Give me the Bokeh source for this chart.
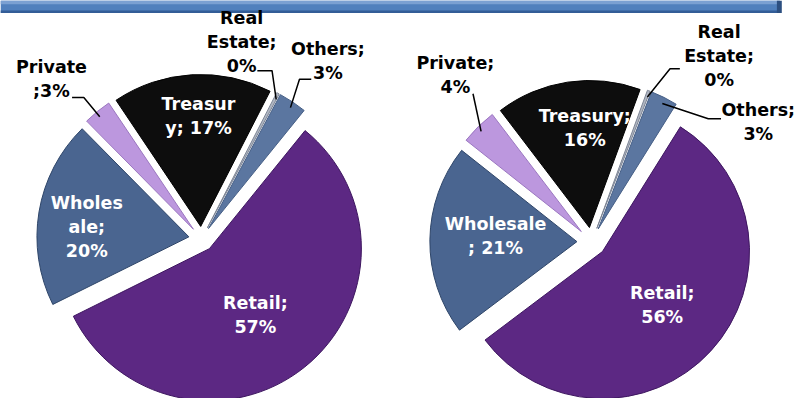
import math
from bokeh.plotting import figure
from bokeh.models import Range1d
from bokeh.embed import file_html
from bokeh.resources import INLINE
from bokeh.core.properties import value

# ---------------- data ----------------
categories = ["Retail", "Wholesale", "Private", "Treasury", "Real Estate", "Others"]
left_values = [57, 20, 3, 17, 0.3, 3]
right_values = [56, 21, 4, 16, 0.3, 3]
left_labels = ["Retail;\n57%", "Wholes\nale;\n20%", "Private\n;3%", "Treasur\ny; 17%", "Real\nEstate;\n0%", "Others;\n3%"]
right_labels = ["Retail;\n56%", "Wholesale\n; 21%", "Private;\n4%", "Treasury;\n16%", "Real\nEstate;\n0%", "Others;\n3%"]

# ---------------- styles ----------------
fills = ["#5c2883", "#4a6590", "#bc97de", "#0d0d0d", "#b0b6c2", "#5b76a0"]
edges = ["#3e1760", "#2f4669", "#9b77c0", "#000000", "#7d8595", "#465f86"]
text_colors = ["white", "white", "black", "white", "black", "black"]

W, H = 812, 414  # reference coordinate frame (y down)

p = figure(width=796, height=398, x_range=Range1d(0, W), y_range=Range1d(0, H),
           output_backend="svg", toolbar_location=None, min_border=0)
p.axis.visible = False
p.grid.visible = False
p.outline_line_color = None
p.background_fill_color = "white"
p.border_fill_color = "white"


def Y(y):
    return H - y

# header bar
p.quad(left=[0], right=[795], top=[Y(0)], bottom=[Y(13)], fill_color="#5080bd", line_color=None)
p.quad(left=[0], right=[795], top=[Y(0)], bottom=[Y(4)], fill_color="#7aa0d2", line_color=None)
p.quad(left=[0], right=[795], top=[Y(10.5)], bottom=[Y(13)], fill_color="#335d97", line_color=None)
p.quad(left=[792], right=[797], top=[Y(0)], bottom=[Y(13)], fill_color="#2c4f80", line_color=None)


def draw_pie(cx, cy, r, d, start, vals, labels, label_pos, leaders):
    total = float(sum(vals))
    theta = start
    mids = []
    for i, v in enumerate(vals):
        span = v / total * 360.0
        t1, t2 = theta, theta + span
        tm = (t1 + t2) / 2.0
        mids.append(tm)
        ox = d * math.sin(math.radians(tm))
        oy = d * math.cos(math.radians(tm))
        p.wedge(x=[cx + ox], y=[Y(cy) + oy], radius=r,
                start_angle=math.radians(90 - t2), end_angle=math.radians(90 - t1),
                fill_color=fills[i], line_color=edges[i], line_width=1)
        theta = t2
    # leader lines
    for i, pts in leaders.items():
        tm = mids[i]
        rr = r + d - 4
        x0 = cx + rr * math.sin(math.radians(tm))
        y0 = Y(cy) + rr * math.cos(math.radians(tm))
        xs = [x0] + [q[0] for q in pts]
        ys = [y0] + [Y(q[1]) for q in pts]
        p.line(xs, ys, line_color="black", line_width=1.5)
    # labels
    for i, lab in enumerate(labels):
        lx, ly = label_pos[i]
        p.text(x=[lx], y=[Y(ly)], text=[lab], text_align="center", text_baseline="middle",
               text_font=value("DejaVu Sans"), text_font_style="bold", text_font_size="17.5px",
               text_color=text_colors[i], text_line_height=1.2)


left_label_pos = [(260, 327), (88, 236), (52, 82), (202, 120), (246, 43), (334, 63)]
right_label_pos = [(675, 317), (505, 245), (464, 78), (596, 133), (733, 58), (773, 126)]
left_leaders = {2: [(85, 101), (73, 101)], 4: [(277, 73), (262, 73)], 5: [(305, 82), (317, 82)]}
right_leaders = {2: [(482, 97)], 4: [(683, 71), (693, 71)], 5: [(722, 123), (735, 123)]}

draw_pie(205, 248, 155, 13, 39, left_values, left_labels, left_label_pos, left_leaders)
draw_pie(603, 251, 150, 15, 32, right_values, right_labels, right_label_pos, right_leaders)

open("out.html", "w").write(file_html(p, INLINE))
